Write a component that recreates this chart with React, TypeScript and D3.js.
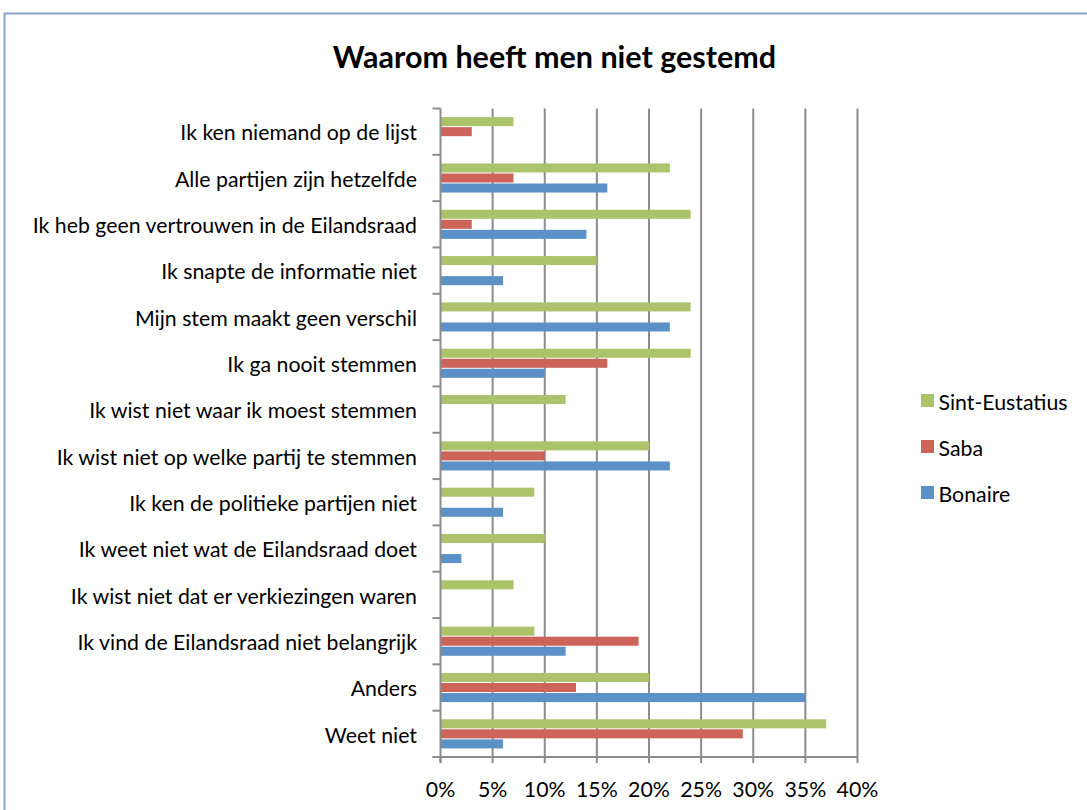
import React from 'react';
import * as d3 from 'd3';

const categories = [
  'Ik ken niemand op de lijst',
  'Alle partijen zijn hetzelfde',
  'Ik heb geen vertrouwen in de Eilandsraad',
  'Ik snapte de informatie niet',
  'Mijn stem maakt geen verschil',
  'Ik ga nooit stemmen',
  'Ik wist niet waar ik moest stemmen',
  'Ik wist niet op welke partij te stemmen',
  'Ik ken de politieke partijen niet',
  'Ik weet niet wat de Eilandsraad doet',
  'Ik wist niet dat er verkiezingen waren',
  'Ik vind de Eilandsraad niet belangrijk',
  'Anders',
  'Weet niet',
];

const seriesNames = ['Sint-Eustatius', 'Saba', 'Bonaire'];
const sintEustatius = [7, 22, 24, 15, 24, 24, 12, 20, 9, 10, 7, 9, 20, 37];
const saba = [3, 7, 3, 0, 0, 16, 0, 10, 0, 0, 0, 19, 13, 29];
const bonaire = [0, 16, 14, 6, 22, 10, 0, 22, 6, 2, 0, 12, 35, 6];
const xTicks = [0, 5, 10, 15, 20, 25, 30, 35, 40];

const colors: Record<string, string> = {
  'Sint-Eustatius': '#abc36a',
  Saba: '#cc645a',
  Bonaire: '#5b91c7',
};

const font = 'Lato, "Open Sans", sans-serif';
const fs = 21.3;

export default function App() {
  const W = 1087;
  const H = 810;
  const values: Record<string, number[]> = {
    'Sint-Eustatius': sintEustatius,
    Saba: saba,
    Bonaire: bonaire,
  };

  const x = d3.scaleLinear().domain([0, 40]).range([440.5, 857.5]);
  const y = d3
    .scaleBand<string>()
    .domain(categories)
    .range([108.5, 757])
    .paddingInner(0.35)
    .paddingOuter(0.175);
  const inner = d3.scaleBand<string>().domain(seriesNames).range([0, y.bandwidth()]);
  const step = y.step();
  const top = 108.5;
  const bottom = 757;

  return (
    <svg width={W} height={H} style={{ position: 'absolute', left: 0, top: 0, background: '#fff' }}>
      <rect x={4.5} y={13.5} width={1100} height={900} fill="#fff" stroke="#86a3c9" strokeWidth={2} />
      <text x={554.5} y={67.5} textAnchor="middle" fontFamily={font} fontWeight="bold" fontSize={30.5} fill="#000">
        Waarom heeft men niet gestemd
      </text>

      {/* gridlines */}
      {xTicks.slice(1).map((t) => (
        <line key={t} x1={x(t)} x2={x(t)} y1={top} y2={bottom} stroke="#8c8c8c" strokeWidth={2} />
      ))}

      {/* bars */}
      {categories.map((c, i) => (
        <g key={c} transform={`translate(0,${y(c)})`}>
          {seriesNames.map((s) =>
            values[s][i] > 0 ? (
              <rect
                key={s}
                x={x(0)}
                y={inner(s)! + 0.5}
                width={x(values[s][i]) - x(0)}
                height={inner.bandwidth() - 1}
                fill={colors[s]}
              />
            ) : null
          )}
        </g>
      ))}

      {/* y axis */}
      <line x1={x(0)} x2={x(0)} y1={top} y2={bottom + 6} stroke="#8c8c8c" strokeWidth={2} />
      {d3.range(categories.length + 1).map((k) => (
        <line key={k} x1={432.5} x2={x(0)} y1={top + k * step} y2={top + k * step} stroke="#8c8c8c" strokeWidth={2} />
      ))}
      {categories.map((c) => (
        <text
          key={c}
          x={417}
          y={y(c)! + y.bandwidth() / 2 + 8.8}
          textAnchor="end"
          fontFamily={font}
          fontSize={fs}
          fill="#000"
        >
          {c}
        </text>
      ))}

      {/* x axis */}
      <line x1={432.5} x2={x(40)} y1={bottom} y2={bottom} stroke="#8c8c8c" strokeWidth={2} />
      {xTicks.map((t) => (
        <g key={t}>
          <line x1={x(t)} x2={x(t)} y1={bottom} y2={bottom + 6} stroke="#8c8c8c" strokeWidth={2} />
          <text x={x(t)} y={797} textAnchor="middle" fontFamily={font} fontSize={fs} fill="#000">
            {t}%
          </text>
        </g>
      ))}

      {/* legend */}
      {seriesNames.map((s, i) => (
        <g key={s} transform={`translate(921,${394 + i * 46})`}>
          <rect x={0} y={0} width={13} height={13} fill={colors[s]} />
          <text x={17.5} y={16} fontFamily={font} fontSize={fs} fill="#000">
            {s}
          </text>
        </g>
      ))}
    </svg>
  );
}
